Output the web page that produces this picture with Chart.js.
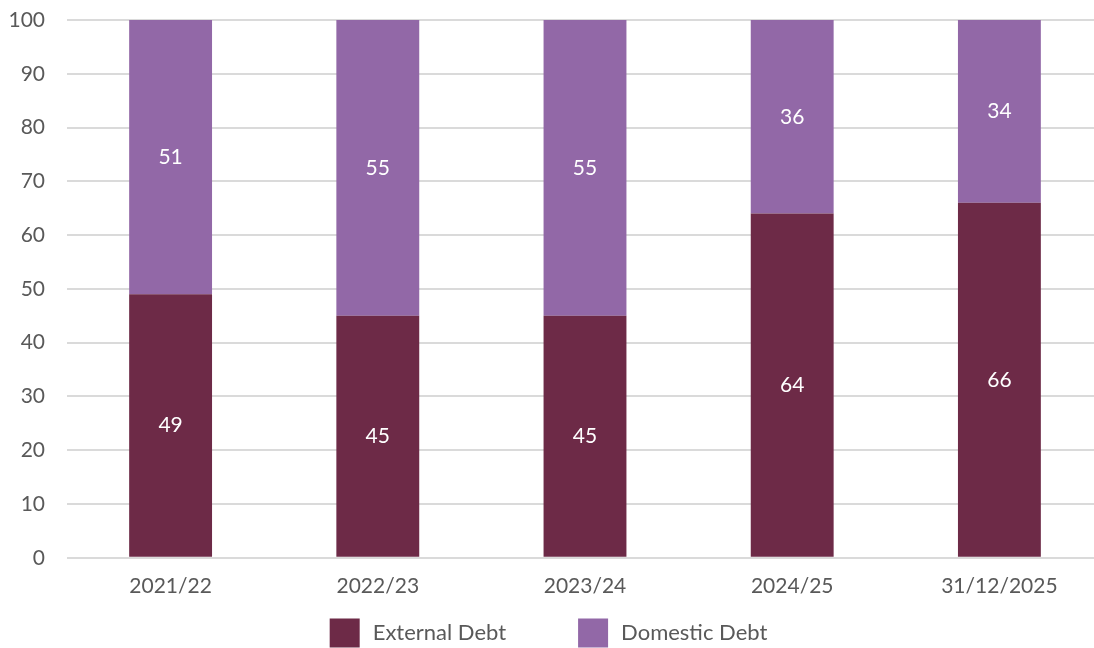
<!DOCTYPE html>
<html>
<head>
<meta charset="utf-8">
<script src="https://cdn.jsdelivr.net/npm/chart.js@4/dist/chart.umd.min.js"></script>
<style>
  html, body { margin: 0; padding: 0; background: #fff; overflow: hidden; }
  #wrap { width: 1103px; height: 648px; }
</style>
</head>
<body>
<div id="wrap"><canvas id="debtChart"></canvas></div>
<script>
const periods = ["2021/22", "2022/23", "2023/24", "2024/25", "31/12/2025"];
const externalDebt = [49, 45, 45, 64, 66];
const domesticDebt = [51, 55, 55, 36, 34];
const yTicks = [0, 10, 20, 30, 40, 50, 60, 70, 80, 90, 100];

const FONT = "'Lato', 'Open Sans', sans-serif";
const GREY = "#595959";

// writes each segment's value in white at its centre
const segmentLabels = {
  id: "segmentLabels",
  afterDatasetsDraw(chart) {
    const ctx = chart.ctx;
    ctx.save();
    ctx.fillStyle = "#ffffff";
    ctx.font = `21px ${FONT}`;
    ctx.textAlign = "center";
    ctx.textBaseline = "middle";
    chart.data.datasets.forEach((ds, i) => {
      chart.getDatasetMeta(i).data.forEach((bar, j) => {
        const mid = (bar.y + bar.base) / 2;
        ctx.fillText(String(ds.data[j]), bar.x, mid);
      });
    });
    ctx.restore();
  }
};

// legend row along the bottom edge, wide gap between the two entries
const bottomLegend = {
  id: "bottomLegend",
  afterDraw(chart) {
    const ctx = chart.ctx;
    const box = 30, textGap = 13, itemGap = 72;
    const y = chart.height - 15;
    ctx.save();
    ctx.font = `22px ${FONT}`;
    ctx.textBaseline = "middle";
    const items = chart.data.datasets.map(ds => ({
      text: ds.label,
      color: ds.backgroundColor,
      w: box + textGap + ctx.measureText(ds.label).width
    }));
    const total = items.reduce((s, it) => s + it.w, 0) + itemGap * (items.length - 1);
    let x = chart.width / 2 - 3 - total / 2;
    items.forEach(it => {
      ctx.fillStyle = it.color;
      ctx.fillRect(x, y - 14.5, box, 29);
      ctx.fillStyle = GREY;
      ctx.fillText(it.text, x + box + textGap, y);
      x += it.w + itemGap;
    });
    ctx.restore();
  }
};

new Chart(document.getElementById("debtChart"), {
  type: "bar",
  data: {
    labels: periods,
    datasets: [
      {
        label: "External Debt",
        data: externalDebt,
        backgroundColor: "#6d2a47",
        barPercentage: 0.8,
        categoryPercentage: 0.5
      },
      {
        label: "Domestic Debt",
        data: domesticDebt,
        backgroundColor: "#9268a7",
        barPercentage: 0.8,
        categoryPercentage: 0.5
      }
    ]
  },
  options: {
    responsive: true,
    maintainAspectRatio: false,
    animation: false,
    layout: { padding: { top: 20, bottom: 41, left: 0, right: 0 } },
    plugins: {
      legend: { display: false },
      tooltip: { enabled: false }
    },
    scales: {
      x: {
        stacked: true,
        grid: { display: false },
        border: { display: false },
        ticks: { color: GREY, font: { family: FONT, size: 21 }, padding: 8 }
      },
      y: {
        stacked: true,
        min: 0,
        max: 100,
        afterFit(scale) {
          scale.width = 67;
          scale.paddingTop = 0;
          scale.paddingBottom = 0;
        },
        afterBuildTicks(scale) { scale.ticks = yTicks.map(v => ({ value: v })); },
        grid: { color: "#dadada", lineWidth: 2, drawTicks: false },
        border: { display: false },
        ticks: { color: GREY, font: { family: FONT, size: 21 }, padding: 22 }
      }
    }
  },
  plugins: [segmentLabels, bottomLegend]
});
</script>
</body>
</html>
